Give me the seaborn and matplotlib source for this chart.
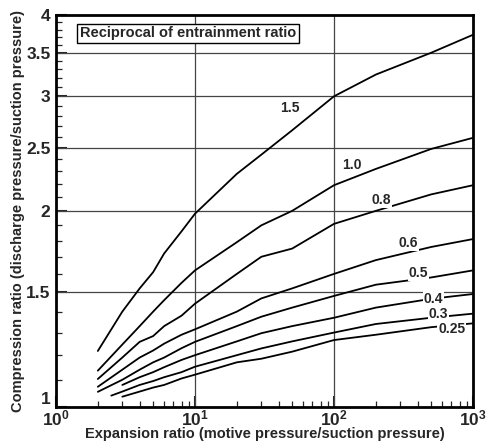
import numpy as np
import pandas as pd
import matplotlib
matplotlib.use("Agg")
import matplotlib.pyplot as plt
import matplotlib.ticker as mticker
import seaborn as sns

# Curves (x = expansion ratio, y = compression ratio)
x_2 = [2, 3, 4, 5, 6, 8, 10, 20, 30, 50, 100, 200, 500, 1000]
y_15 = [1.218, 1.40, 1.52, 1.61, 1.72, 1.86, 1.98, 2.28, 2.44, 2.66, 3.0, 3.24, 3.5, 3.73]
y_10 = [1.136, 1.246, 1.33, 1.40, 1.458, 1.55, 1.62, 1.79, 1.90, 2.0, 2.19, 2.32, 2.49, 2.59]
y_08 = [1.103, 1.19, 1.258, 1.284, 1.33, 1.38, 1.44, 1.60, 1.70, 1.75, 1.91, 2.0, 2.12, 2.19]
y_06 = [1.073, 1.14, 1.19, 1.22, 1.25, 1.29, 1.315, 1.40, 1.467, 1.52, 1.60, 1.68, 1.76, 1.81]
y_05 = [1.054, 1.10, 1.14, 1.17, 1.19, 1.23, 1.258, 1.33, 1.375, 1.42, 1.48, 1.54, 1.58, 1.62]

x_3 = [3, 4, 5, 6, 8, 10, 20, 30, 50, 100, 200, 500, 1000]
y_04 = [1.08, 1.11, 1.13, 1.15, 1.18, 1.20, 1.26, 1.297, 1.33, 1.37, 1.42, 1.465, 1.49]
y_025 = [1.036, 1.055, 1.07, 1.08, 1.105, 1.12, 1.17, 1.185, 1.215, 1.266, 1.29, 1.325, 1.343]

x_25 = [2.5, 3, 4, 5, 6, 8, 10, 20, 30, 50, 100, 200, 500, 1000]
y_03 = [1.040, 1.055, 1.08, 1.095, 1.11, 1.13, 1.152, 1.20, 1.229, 1.26, 1.30, 1.34, 1.37, 1.39]

curves = {
    "1.5": (x_2, y_15), "1.0": (x_2, y_10), "0.8": (x_2, y_08),
    "0.6": (x_2, y_06), "0.5": (x_2, y_05), "0.4": (x_3, y_04),
    "0.3": (x_25, y_03), "0.25": (x_3, y_025),
}

# label positions (data coords)
label_pos = {
    "1.5": (48, 2.88), "1.0": (134, 2.35), "0.8": (220, 2.08),
    "0.6": (343, 1.786), "0.5": (404, 1.603), "0.4": (518, 1.464),
    "0.3": (563, 1.387), "0.25": (703, 1.316),
}

rows = []
for name, (xs, ys) in curves.items():
    for xv, yv in zip(xs, ys):
        rows.append({"ratio": name, "x": xv, "y": yv})
df = pd.DataFrame(rows)

sns.set_style("ticks")
plt.rcParams["font.family"] = ["Liberation Sans", "DejaVu Sans"]
plt.rcParams["font.weight"] = "bold"
plt.rcParams["mathtext.default"] = "regular"

fig = plt.figure(figsize=(4.92, 4.42), dpi=100)
ax = fig.add_axes([0.1138, 0.0799, 0.8476, 0.8861])

ax.set_xscale("log")
ax.set_yscale("log")

# grid lines
for yv in [1.5, 2, 2.5, 3, 3.5]:
    ax.axhline(yv, color="#444444", lw=0.9, zorder=1)
for xv in [10, 100]:
    ax.axvline(xv, color="#444444", lw=0.9, zorder=1)

sns.lineplot(data=df, x="x", y="y", hue="ratio", units="ratio", estimator=None,
             sort=False, palette={k: "black" for k in curves}, legend=False,
             lw=1.3, ax=ax, zorder=3)

for name, (lx, ly) in label_pos.items():
    ax.text(lx, ly, name, fontsize=10, fontweight="bold", ha="center", va="center",
            zorder=4, bbox=dict(facecolor="white", edgecolor="none", pad=0.6))

ax.set_xlim(1, 1000)
ax.set_ylim(1, 4)

ax.yaxis.set_major_locator(mticker.FixedLocator([1, 1.5, 2, 2.5, 3, 3.5, 4]))
ax.yaxis.set_major_formatter(mticker.FixedFormatter(["1", "1.5", "2", "2.5", "3", "3.5", "4"]))
ax.yaxis.set_minor_locator(mticker.FixedLocator(np.arange(1.1, 4.0, 0.1)))
ax.yaxis.set_minor_formatter(mticker.NullFormatter())
ax.xaxis.set_major_locator(mticker.LogLocator(base=10))
ax.xaxis.set_minor_locator(mticker.LogLocator(base=10, subs=np.arange(2, 10)))
ax.xaxis.set_minor_formatter(mticker.NullFormatter())

ax.tick_params(which="major", direction="in", length=8, width=1.5, labelsize=12.5)
ax.tick_params(which="minor", direction="in", length=4.5, width=0.9)
ax.tick_params(axis="x", which="major", pad=1)
ax.tick_params(axis="y", which="major", pad=4)
ax.tick_params(top=False, right=False, which="both")
for lab in ax.get_xticklabels() + ax.get_yticklabels():
    lab.set_fontweight("bold")

# lift the "1" label a touch so it clears the 10^0 label below it
fig.canvas.draw()
ax.get_yticklabels()[0].set_verticalalignment("bottom")

for s in ax.spines.values():
    s.set_linewidth(2)
    s.set_color("black")

ax.set_xlabel("Expansion ratio (motive pressure/suction pressure)", fontsize=10.5,
              fontweight="bold", labelpad=-1)
ax.set_ylabel("Compression ratio (discharge pressure/suction pressure)", fontsize=10.5,
              fontweight="bold", labelpad=1)

ax.text(0.058, 0.953, "Reciprocal of entrainment ratio", transform=ax.transAxes,
        fontsize=10.5, fontweight="bold", ha="left", va="center", zorder=5,
        bbox=dict(facecolor="white", edgecolor="black", boxstyle="square,pad=0.2", lw=1))

fig.savefig("out.png", dpi=100)
